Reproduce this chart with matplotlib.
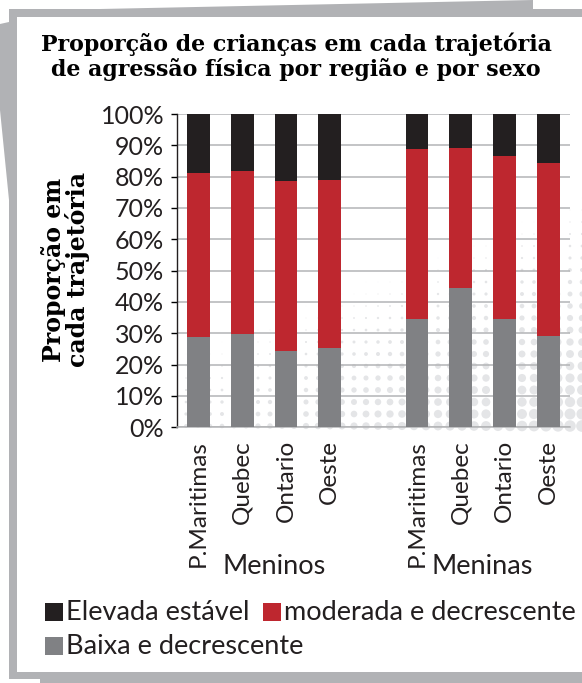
import numpy as np
import matplotlib
matplotlib.use("Agg")
import matplotlib.pyplot as plt
from matplotlib.patches import Rectangle, Polygon
from matplotlib.transforms import blended_transform_factory

# dados (%)
regioes = ['P.Maritimas', 'Quebec', 'Ontario', 'Oeste']
grupos = ['Meninos', 'Meninas']
baixa = [28.8, 29.8, 24.5, 25.4, 34.6, 44.6, 34.6, 29.2]
moderada = [52.5, 52.1, 54.2, 53.5, 54.2, 44.6, 52.1, 55.3]
elevada = [18.7, 18.1, 21.3, 21.1, 11.2, 10.8, 13.3, 15.5]
rotulos = regioes * 2
yticks = list(range(0, 101, 10))

cor_baixa = '#808184'
cor_moderada = '#be272f'
cor_elevada = '#231f20'
cor_moldura = '#b1b2b5'

plt.rcParams['font.family'] = ['Lato', 'DejaVu Sans']

W, H = 582, 683
fig = plt.figure(figsize=(W / 100, H / 100), dpi=100)

# fundo / moldura (em pixels)
bg = fig.add_axes([0, 0, 1, 1])
bg.set_xlim(0, W)
bg.set_ylim(H, 0)
bg.axis('off')
bg.add_patch(Polygon([(100, 9), (533, 0), (533, 9)], closed=True, color=cor_moldura, lw=0))
bg.add_patch(Polygon([(0, 24), (9, 22), (9, 200), (0, 110)], closed=True, color=cor_moldura, lw=0))
bg.add_patch(Rectangle((40, 678), W, 6, color=cor_moldura, lw=0))
bg.add_patch(Rectangle((9, 9), W, 670, color=cor_moldura, lw=0))
bg.add_patch(Rectangle((17, 17), W, 655, color='white', lw=0))

# padrão de pontos decorativo (meio-tom)
gx, gy = np.meshgrid(np.arange(186, 590, 12), np.arange(150, 428, 12))
t = (gy - 150) / 280 + (gx - 580) / 700
diam = np.clip(t - 0.15, 0, None) * 14
bg.scatter(gx.ravel(), gy.ravel(), s=(diam.ravel() * 0.72) ** 2, color='#e4e5e7', lw=0, zorder=1)

ax = fig.add_axes([176.7 / W, 1 - 427.3 / H, (570 - 176.7) / W, (427.3 - 114) / H])
ax.set_facecolor('none')

x = [i + 5 * g for g in range(len(grupos)) for i in range(len(regioes))]
base2 = [a + b for a, b in zip(baixa, moderada)]
larg = 0.52
ax.bar(x, baixa, width=larg, color=cor_baixa, zorder=3)
ax.bar(x, moderada, bottom=baixa, width=larg, color=cor_moderada, zorder=3)
ax.bar(x, elevada, bottom=base2, width=larg, color=cor_elevada, zorder=3)

ax.set_xlim(-0.5, 8.5)
ax.set_ylim(0, 100)
ax.set_yticks(yticks)
ax.set_yticklabels([f'{v}%' for v in yticks], fontsize=18, color='#231f20')
ax.set_xticks(x)
ax.set_xticklabels(rotulos, rotation=90, fontsize=17.5, color='#231f20')
ax.tick_params(axis='x', length=0, pad=9)
ax.tick_params(axis='y', length=4, width=1, pad=5, direction='out')
ax.grid(axis='y', color='#b3b4b6', lw=1.1, zorder=1)
for sp in ['top', 'right']:
    ax.spines[sp].set_visible(False)
ax.spines['bottom'].set_color('#b3b4b6')
ax.spines['bottom'].set_linewidth(1.1)
ax.spines['left'].set_color('#231f20')
ax.spines['left'].set_linewidth(1)

# rótulos dos grupos
tr = blended_transform_factory(ax.transData, fig.transFigure)
for xc, nome in zip([1.72, 6.5], grupos):
    ax.text(xc, 1 - 567 / H, nome, transform=tr,
            ha='center', va='center', fontsize=19.5, color='#231f20')

fig.text(296 / W, 1 - 57 / H, 'Proporção de crianças em cada trajetória\nde agressão física por região e por sexo',
         ha='center', va='center', family='DejaVu Serif', weight='bold', fontsize=15.9,
         linespacing=1.1, color='black')
fig.text(65 / W, 1 - 270 / H, 'Proporção em\ncada trajetória', rotation=90,
         ha='center', va='center', family='DejaVu Serif', weight='bold', fontsize=17,
         linespacing=0.95, color='black')

# legenda
itens = [('Elevada estável', cor_elevada, 45, 603),
         ('moderada e decrescente', cor_moderada, 263, 603),
         ('Baixa e decrescente', cor_baixa, 45, 637)]
for texto, cor, px, py in itens:
    bg.add_patch(Rectangle((px, py), 18, 18, color=cor, lw=0))
    bg.text(px + 21, py + 9, texto, ha='left', va='center', fontsize=19.5, color='#231f20')

fig.savefig('out.png', dpi=100)
